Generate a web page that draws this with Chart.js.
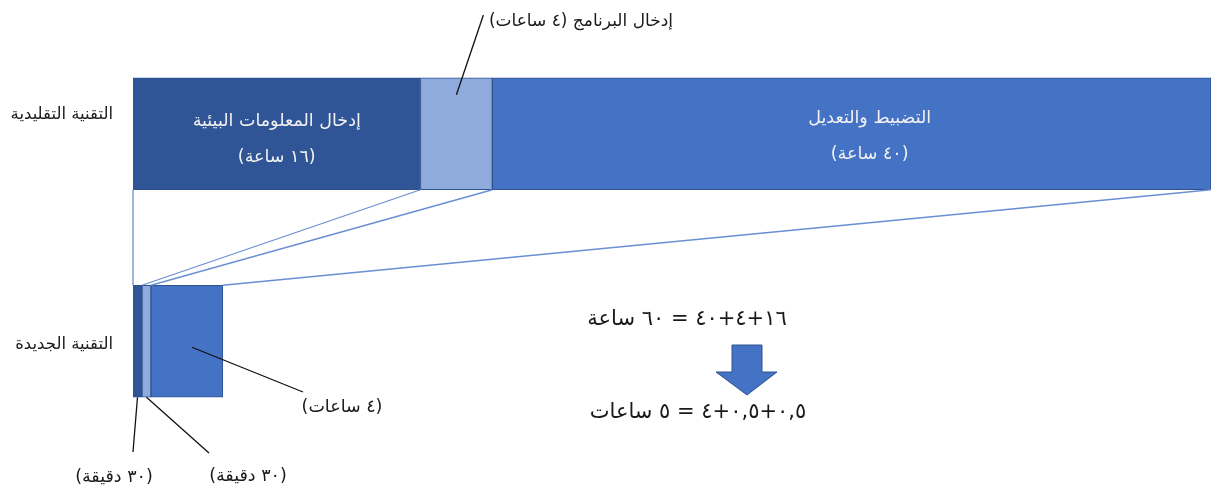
<!DOCTYPE html>
<html><head><meta charset="utf-8">
<script src="https://cdn.jsdelivr.net/npm/chart.js@4.4.1/dist/chart.umd.min.js"></script>
<style>html,body{margin:0;padding:0;background:#fff;overflow:hidden}#wrap{width:1212px;height:493px}</style>
</head><body><div id="wrap"><canvas id="c" width="1212" height="493"></canvas></div>
<script>
// ---- data ----
const categories = ['التقنية التقليدية', 'التقنية الجديدة'];
const seriesNames = ['إدخال المعلومات البيئية', 'إدخال البرنامج', 'التضبيط والتعديل'];
const envInputHours = [16, 0.5];
const programInputHours = [4, 0.5];
const tuningHours = [40, 4];
const envLabelTop = ['إدخال المعلومات البيئية', '(١٦ ساعة)'];
const tuningLabelTop = ['التضبيط والتعديل', '(٤٠ ساعة)'];
const programCallout = 'إدخال البرنامج (٤ ساعات)';
const newTuningCallout = '(٤ ساعات)';
const newEnvCallout = '(٣٠ دقيقة)';
const newProgramCallout = '(٣٠ دقيقة)';
const totalsText = ['١٦+٤+٤٠ = ٦٠ ساعة', '٠,٥+٠,٥+٤ = ٥ ساعات'];
const xMax = 60;

const FONT = '"DejaVu Sans", "Noto Sans", sans-serif';

function txt(ctx, s, x, y, size, color, align, dir) {
  ctx.save();
  ctx.font = size + 'px ' + FONT;
  ctx.fillStyle = color;
  ctx.direction = dir || 'rtl';
  ctx.textAlign = align || 'center';
  ctx.textBaseline = 'middle';
  ctx.fillText(s, x, y);
  ctx.restore();
}
function line(ctx, x1, y1, x2, y2, color, w) {
  ctx.save();
  ctx.strokeStyle = color; ctx.lineWidth = w;
  ctx.beginPath(); ctx.moveTo(x1, y1); ctx.lineTo(x2, y2); ctx.stroke();
  ctx.restore();
}

const overlay = {
  id: 'overlay',
  afterDatasetsDraw(chart) {
    const ctx = chart.ctx;
    const xs = chart.scales.x, ys = chart.scales.y;
    const series = [envInputHours, programInputHours, tuningHours];
    const yTop = ys.getPixelForValue(0), yBot = ys.getPixelForValue(1);
    const h = chart.getDatasetMeta(0).data[0].height;
    const cum = [0, 1].map(i => {
      const a = [0]; let s = 0;
      series.forEach(d => { s += d[i]; a.push(s); });
      return a;
    });
    // connector lines
    for (let k = 0; k < cum[0].length; k++) {
      line(ctx, xs.getPixelForValue(cum[0][k]), yTop + h / 2,
           xs.getPixelForValue(cum[1][k]), yBot - h / 2, '#6a8fd2', 1.3);
    }
    // category labels
    txt(ctx, categories[0], 113, yTop - 19, 16.5, '#1a1a1a', 'right');
    txt(ctx, categories[1], 113, yBot + 3, 16.5, '#1a1a1a', 'right');
    // segment labels in top bar
    const c1 = (xs.getPixelForValue(cum[0][0]) + xs.getPixelForValue(cum[0][1])) / 2;
    const c3 = (xs.getPixelForValue(cum[0][2]) + xs.getPixelForValue(cum[0][3])) / 2 + 18;
    txt(ctx, envLabelTop[0], c1, yTop - 12, 17.5, '#f2f2f2');
    txt(ctx, envLabelTop[1], c1, yTop + 24, 17.5, '#f2f2f2');
    txt(ctx, tuningLabelTop[0], c3, yTop - 15, 17.5, '#f2f2f2');
    txt(ctx, tuningLabelTop[1], c3, yTop + 21, 17.5, '#f2f2f2');
    // program callout (top)
    const c2 = (xs.getPixelForValue(cum[0][1]) + xs.getPixelForValue(cum[0][2])) / 2;
    line(ctx, c2, yTop - h / 2 + 17, c2 + 27, 15, '#111', 1.3);
    txt(ctx, programCallout, 673, 22, 17, '#1a1a1a', 'right');
    // bottom callouts
    const b1 = (xs.getPixelForValue(cum[1][0]) + xs.getPixelForValue(cum[1][1])) / 2;
    const b2 = (xs.getPixelForValue(cum[1][1]) + xs.getPixelForValue(cum[1][2])) / 2;
    const b3 = (xs.getPixelForValue(cum[1][2]) + xs.getPixelForValue(cum[1][3])) / 2;
    line(ctx, b3 + 5, yBot + 6, 303, 392, '#111', 1.3);
    txt(ctx, newTuningCallout, 342, 407, 17.5, '#1a1a1a');
    line(ctx, b1, yBot + h / 2, 133, 452, '#111', 1.3);
    txt(ctx, newEnvCallout, 114, 477, 17.5, '#1a1a1a');
    line(ctx, b2, yBot + h / 2, 209, 453, '#111', 1.3);
    txt(ctx, newProgramCallout, 248, 476, 17.5, '#1a1a1a');
    // totals
    txt(ctx, totalsText[0], 687, 320, 21, '#1a1a1a');
    txt(ctx, totalsText[1], 698, 413, 21, '#1a1a1a');
    // arrow
    ctx.save();
    ctx.fillStyle = '#4472C4'; ctx.strokeStyle = '#2F528F'; ctx.lineWidth = 1;
    ctx.beginPath();
    ctx.moveTo(732, 345); ctx.lineTo(762, 345); ctx.lineTo(762, 372);
    ctx.lineTo(777, 372); ctx.lineTo(747, 395); ctx.lineTo(716, 372);
    ctx.lineTo(732, 372); ctx.closePath();
    ctx.fill(); ctx.stroke();
    ctx.restore();
  }
};

new Chart(document.getElementById('c'), {
  type: 'bar',
  data: {
    labels: categories,
    datasets: [
      { label: seriesNames[0], data: envInputHours, backgroundColor: '#2F5597' },
      { label: seriesNames[1], data: programInputHours, backgroundColor: '#8FAADC' },
      { label: seriesNames[2], data: tuningHours, backgroundColor: '#4472C4' }
    ].map(d => Object.assign(d, { borderColor: '#2F528F', borderWidth: 1, borderSkipped: false, barThickness: 112 }))
  },
  options: {
    indexAxis: 'y',
    responsive: false,
    animation: false,
    layout: { padding: { left: 133, right: 1, top: 30, bottom: 48 } },
    scales: {
      x: { stacked: true, min: 0, max: xMax, display: false },
      y: { stacked: true, display: false }
    },
    plugins: { legend: { display: false }, tooltip: { enabled: false } }
  },
  plugins: [overlay]
});
</script>
</body></html>
